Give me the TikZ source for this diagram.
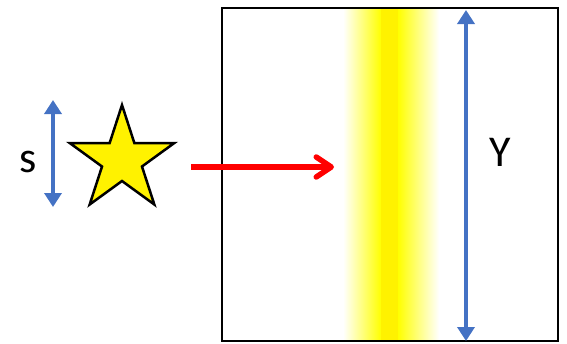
\documentclass[tikz,border=0pt]{standalone}
\usepackage{fontspec}
\setmainfont{Carlito}
\usetikzlibrary{arrows.meta,shapes.geometric}
\definecolor{dimblue}{HTML}{4472C4}

\begin{document}
\begin{tikzpicture}[
    x=1pt, y=-1pt,
    dimarrow/.style={draw=dimblue, line width=4.5pt, {Triangle[length=14pt, width=17pt]}-{Triangle[length=14pt, width=17pt]}},
    beam/.style={draw=red, line width=5.5pt, -{Straight Barb[length=15pt, width=20pt, line cap=round, line join=round]}},
    dimlabel/.style={anchor=base, inner sep=0pt, font=\fontsize{44}{48}\selectfont},
    source/.style={star, star points=5, star point ratio=2.618, fill=yellow, draw=black, line width=2.5pt, minimum size=110pt, inner sep=0pt}
]
    \useasboundingbox (0,0) rectangle (567,343);

    % gele band op het scherm
    \shade[left color=white, right color=yellow] (343,8) rectangle (381,341);
    \fill[yellow] (381,8) rectangle (398,341);
    \shade[left color=yellow, right color=white] (398,8) rectangle (439,341);

    % scherm
    \draw[line width=2pt] (222,8) rectangle (558,341);

    % bron (ster)
    \node[source] (src) at (122,160) {};

    % maat s
    \coordinate (sTop) at (53,100);
    \coordinate (sBot) at (53,207);
    \draw[dimarrow] (sTop) -- (sBot);
    \node[dimlabel] (sLab) at (28,172) {s};

    % maat Y
    \coordinate (yTop) at (466,10);
    \coordinate (yBot) at (466,341);
    \draw[dimarrow] (yTop) -- (yBot);
    \node[dimlabel] (yLab) at (500,166) {Y};

    % lichtstraal
    \coordinate (rayStart) at (191,167);
    \coordinate (rayEnd) at (334,167);
    \draw[beam] (rayStart) -- (rayEnd);

\end{tikzpicture}
\end{document}
